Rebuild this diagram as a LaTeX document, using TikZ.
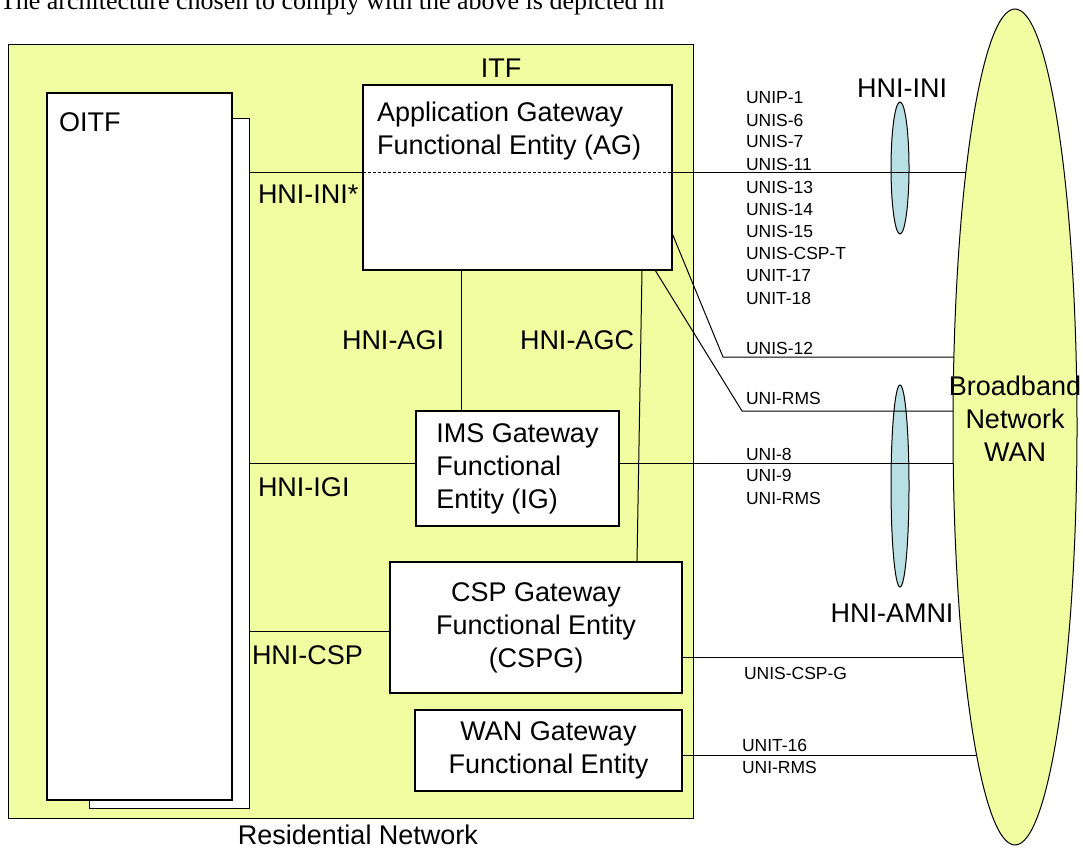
\documentclass[tikz,border=0pt]{standalone}
\usepackage{fontspec}
\setmainfont{Liberation Sans}
\newfontfamily\bodyserif{Liberation Serif}
\usetikzlibrary{shapes.geometric}

\definecolor{resyellow}{RGB}{240,253,160}
\definecolor{iniblue}{RGB}{184,224,228}
\newcommand{\boxfont}{\fontsize{27}{33}\selectfont}
\newcommand{\refpfont}{\fontsize{17.5}{21}\selectfont}

\begin{document}
\begin{tikzpicture}[x=1pt, y=-1pt,
  every node/.style={outer sep=0pt, inner sep=0pt},
  thinbox/.style={draw, line width=1.3pt, fill=white, anchor=north west},
  thickbox/.style={draw, line width=2.5pt, fill=white, anchor=north west},
  oval/.style={ellipse, draw, line width=1pt},
  link/.style={line width=1pt}]

\useasboundingbox (0,0) rectangle (1083,850);
\clip (0,0) rectangle (1083,850);

% Line of text cut by the top edge
\node[anchor=base west, font=\bodyserif\fontsize{26}{31}\selectfont] (intro) at (0,9.5)
  {The architecture chosen to comply with the above is depicted in};

% Residential network and ITF
\node[draw, line width=1pt, fill=resyellow, anchor=north west,
  minimum width=685, minimum height=773] (res) at (8,45) {};
\node[font=\boxfont] (reslbl) at (358,835) {Residential Network};
\node[font=\boxfont] (itf) at (501,68) {ITF};

% OITF, with a second box behind it
\node[thinbox, line width=1pt, minimum width=160, minimum height=689] (oitfback) at (89,119) {};
\node[thickbox, minimum width=185, minimum height=707] (oitf) at (47,93) {};
\node[font=\boxfont, anchor=west] (oitflbl) at (59,122) {OITF};

% Gateway entities
\node[thickbox, minimum width=309, minimum height=185] (ag) at (363,85) {};
\node[font=\boxfont, anchor=west, align=left] (aglbl) at (377,131)
  {Application Gateway\\Functional Entity (AG)};
\node[thickbox, minimum width=203, minimum height=115, font=\boxfont, align=left]
  (ig) at (416,411) {IMS Gateway\\Functional\\Entity (IG)};
\node[thinbox, minimum width=292, minimum height=131, font=\boxfont, align=center]
  (csp) at (390,562) {CSP Gateway\\Functional Entity\\(CSPG)};
\node[thinbox, minimum width=267, minimum height=81, font=\boxfont, align=center]
  (wang) at (415,710) {WAN Gateway\\Functional Entity};

% Broadband network and the two interface ovals
\node[oval, fill=resyellow, minimum width=124, minimum height=836] (bbn) at (1015,427) {};
\node[font=\boxfont, align=center] (bbnlbl) at (1015,419) {Broadband\\Network\\WAN};
\node[oval, fill=iniblue, minimum width=18, minimum height=132] (inioval) at (900,168) {};
\node[oval, fill=iniblue, minimum width=18, minimum height=202] (amnioval) at (900,486) {};
\node[font=\boxfont] (inilbl) at (902,88) {HNI-INI};
\node[font=\boxfont] (amnilbl) at (892,613) {HNI-AMNI};

% Where the links meet the WAN oval
\coordinate (wini) at (966,173);
\coordinate (w12) at (954,357);
\coordinate (wrms) at (953,411);
\coordinate (wig) at (953,463);
\coordinate (wcsp) at (963,657);
\coordinate (wgw) at (977,755);

% HNI-INI*, dashed inside AG
\draw[link] (oitfback.east |- wini) -- (ag.west |- wini);
\draw[link, dash pattern=on 3pt off 2pt] (ag.west |- wini) -- (ag.east |- wini);
\draw[link] (ag.east |- wini) -- (wini);

% HNI-AGI and HNI-AGC
\draw[link] (ag.south -| 461,0) -- (ig.north -| 461,0);
\draw[link] (ag.south -| 642,0) -- (csp.north -| 637,0);

% IMS gateway
\draw[link] (oitfback.east |- wig) -- (ig.west |- wig);
\draw[link] (ig.east |- wig) -- (wig);

% UNIS-12 and UNI-RMS leave AG with a bend
\draw[link] (ag.east |- 0,233) -- (723,357) -- (w12);
\draw[link] (ag.south -| 655,0) -- (742,411) -- (wrms);

% CSP and WAN gateways
\draw[link] (oitfback.east |- 0,631) -- (csp.west |- 0,631);
\draw[link] (csp.east |- wcsp) -- (wcsp);
\draw[link] (wang.east |- wgw) -- (wgw);

% Interface labels inside the residential network
\foreach \lab/\x/\y [count=\i] in {
  HNI-INI*/258/194,
  HNI-AGI/342/340,
  HNI-AGC/520/340,
  HNI-IGI/258/487,
  HNI-CSP/252/655} {
  \node[font=\boxfont, anchor=west] (hni\i) at (\x,\y) {\lab};
}

% Reference points towards the WAN
\foreach \lab/\x/\y [count=\i] in {
  UNIP-1/746/98, UNIS-6/746/120, UNIS-7/746/141, UNIS-11/746/164,
  UNIS-13/746/187, UNIS-14/746/209, UNIS-15/746/231, UNIS-CSP-T/746/253,
  UNIT-17/746/276, UNIT-18/746/298, UNIS-12/746/348, UNI-RMS/746/398,
  UNI-8/746/454, UNI-9/746/475, UNI-RMS/746/498,
  UNIS-CSP-G/744/673, UNIT-16/742/745, UNI-RMS/742/767} {
  \node[font=\refpfont, anchor=west] (uref\i) at (\x,\y) {\lab};
}

\end{tikzpicture}
\end{document}
